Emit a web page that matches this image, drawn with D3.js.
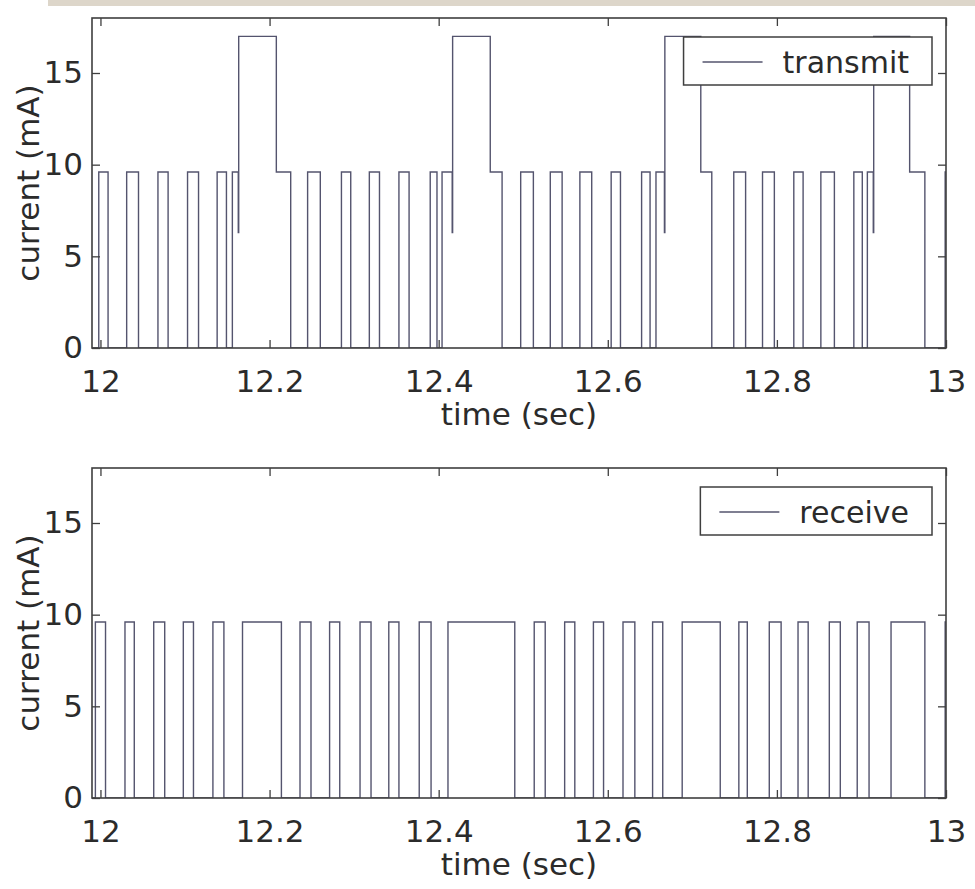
<!DOCTYPE html>
<html>
<head>
<meta charset="utf-8">
<script src="https://cdn.jsdelivr.net/npm/d3@7"></script>
<style>
  body { margin: 0; background: #fff; }
  svg { display: block; }
  text { font-family: "DejaVu Sans", sans-serif; fill: #2b2b2b; }
</style>
</head>
<body>
<svg id="chart" width="975" height="889"></svg>
<script>
// step series: current holds from time[k] until time[k+1]
const txTime = [
  11.990, 11.998, 12.009, 12.031, 12.045, 12.068, 12.080, 12.103, 12.116, 12.138, 12.149,
  12.156, 12.163, 12.1635, 12.208, 12.225,
  12.245, 12.260, 12.285, 12.296, 12.318, 12.330, 12.353, 12.365, 12.390, 12.398,
  12.404, 12.416, 12.4165, 12.461, 12.475,
  12.497, 12.512, 12.532, 12.546, 12.567, 12.581, 12.604, 12.615, 12.640, 12.650,
  12.657, 12.667, 12.6675, 12.710, 12.723,
  12.749, 12.763, 12.783, 12.797, 12.820, 12.831, 12.852, 12.868, 12.891, 12.901,
  12.907, 12.914, 12.9145, 12.957, 12.975,
  12.999, 13.000
];
const txCurrent = [
  0, 9.6, 0, 9.6, 0, 9.6, 0, 9.6, 0, 9.6, 0,
  9.6, 6.3, 17, 9.6, 0,
  9.6, 0, 9.6, 0, 9.6, 0, 9.6, 0, 9.6, 0,
  9.6, 6.3, 17, 9.6, 0,
  9.6, 0, 9.6, 0, 9.6, 0, 9.6, 0, 9.6, 0,
  9.6, 6.3, 17, 9.6, 0,
  9.6, 0, 9.6, 0, 9.6, 0, 9.6, 0, 9.6, 0,
  9.6, 6.3, 17, 9.6, 0,
  9.6, 9.6
];

const rxTime = [
  11.990, 11.994, 12.006, 12.029, 12.040, 12.063, 12.076, 12.098, 12.110, 12.133, 12.146,
  12.168, 12.214, 12.236, 12.249, 12.271, 12.283, 12.307, 12.320, 12.341, 12.353,
  12.377, 12.391, 12.411, 12.490, 12.513, 12.526, 12.549, 12.561, 12.583, 12.595,
  12.618, 12.632, 12.653, 12.665, 12.688, 12.733, 12.755, 12.765, 12.791, 12.805,
  12.825, 12.837, 12.862, 12.875, 12.895, 12.909, 12.935, 12.975, 12.999, 13.000
];
const rxCurrent = [
  0, 9.6, 0, 9.6, 0, 9.6, 0, 9.6, 0, 9.6, 0,
  9.6, 0, 9.6, 0, 9.6, 0, 9.6, 0, 9.6, 0,
  9.6, 0, 9.6, 0, 9.6, 0, 9.6, 0, 9.6, 0,
  9.6, 0, 9.6, 0, 9.6, 0, 9.6, 0, 9.6, 0,
  9.6, 0, 9.6, 0, 9.6, 0, 9.6, 0, 9.6, 9.6
];

const xTicks = [12, 12.2, 12.4, 12.6, 12.8, 13];
const yTicks = [0, 5, 10, 15];
const xDomain = [11.99, 13];
const yDomain = [0, 18];

const panels = [
  { name: "transmit", time: txTime, current: txCurrent, top: 18 },
  { name: "receive", time: rxTime, current: rxCurrent, top: 468 }
];

const svg = d3.select("#chart");
const left = 92, right = 946, plotH = 330;
const axisColor = "#3f3f3f", lineColor = "#54546e";

// the grey strip across the top of the screenshot
svg.append("rect").attr("x", 48).attr("y", 0).attr("width", 927).attr("height", 6)
  .attr("fill", "#ddd6ca");

const x = d3.scaleLinear().domain(xDomain).range([left, right]);

panels.forEach((p, i) => {
  const y = d3.scaleLinear().domain(yDomain).range([p.top + plotH, p.top]);
  const g = svg.append("g");

  g.append("clipPath").attr("id", "clip" + i)
    .append("rect").attr("x", left).attr("y", p.top).attr("width", right - left).attr("height", plotH);

  const pts = p.time.map((t, k) => [t, p.current[k]]);
  const line = d3.line().x(d => x(d[0])).y(d => y(d[1])).curve(d3.curveStepAfter);
  g.append("path").datum(pts)
    .attr("clip-path", `url(#clip${i})`)
    .attr("fill", "none").attr("stroke", lineColor).attr("stroke-width", 1.4)
    .attr("d", line);

  // axes with inward ticks on all four sides (matlab box)
  const bottom = g.append("g").attr("transform", `translate(0,${p.top + plotH})`)
    .call(d3.axisBottom(x).tickValues(xTicks).tickSize(-8).tickSizeOuter(0).tickPadding(22).tickFormat(d3.format("")));
  g.append("g").attr("transform", `translate(0,${p.top})`)
    .call(d3.axisTop(x).tickValues(xTicks).tickSize(-8).tickSizeOuter(0).tickFormat(""));
  const leftAx = g.append("g").attr("transform", `translate(${left},0)`)
    .call(d3.axisLeft(y).tickValues(yTicks).tickSize(-8).tickSizeOuter(0).tickPadding(9));
  g.append("g").attr("transform", `translate(${right},0)`)
    .call(d3.axisRight(y).tickValues(yTicks).tickSize(-8).tickSizeOuter(0).tickFormat(""));

  g.selectAll(".domain").remove();
  g.selectAll(".tick line").attr("stroke", axisColor).attr("stroke-width", 1.3);
  g.selectAll(".tick text").attr("font-size", 31).attr("font-family", "DejaVu Sans").attr("fill", "#2b2b2b");

  g.append("rect").attr("x", left).attr("y", p.top).attr("width", right - left).attr("height", plotH)
    .attr("fill", "none").attr("stroke", axisColor).attr("stroke-width", 1.6);

  g.append("text").attr("x", (left + right) / 2).attr("y", p.top + plotH + 77)
    .attr("text-anchor", "middle").attr("font-size", 31).text("time (sec)");

  g.append("text").attr("transform", `translate(39,${p.top + plotH / 2}) rotate(-90)`)
    .attr("text-anchor", "middle").attr("font-size", 31).text("current (mA)");

  // legend
  const lg = g.append("g");
  const label = lg.append("text").attr("font-size", 30).text(p.name);
  const tw = label.node().getComputedTextLength();
  const boxW = 99 + tw + 23, boxR = right - 14, boxX = boxR - boxW, boxY = p.top + 19;
  lg.insert("rect", "text").attr("x", boxX).attr("y", boxY).attr("width", boxW).attr("height", 48)
    .attr("fill", "#fff").attr("stroke", axisColor).attr("stroke-width", 1.5);
  lg.append("line").attr("x1", boxX + 19).attr("x2", boxX + 79).attr("y1", boxY + 25).attr("y2", boxY + 25)
    .attr("stroke", lineColor).attr("stroke-width", 1.4);
  label.attr("x", boxX + 99).attr("y", boxY + 36);
});
</script>
</body>
</html>
